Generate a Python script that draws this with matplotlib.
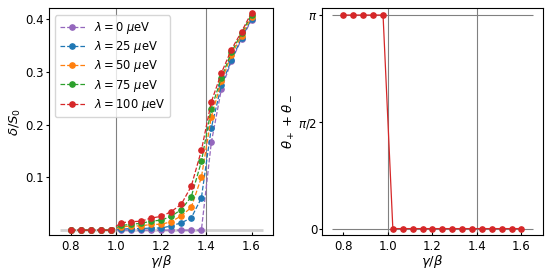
import numpy as np
import matplotlib
matplotlib.use("Agg")
import matplotlib.pyplot as plt

x = [0.8, 0.844, 0.889, 0.933, 0.978, 1.022, 1.067, 1.111, 1.156, 1.2,
     1.244, 1.289, 1.333, 1.378, 1.422, 1.467, 1.511, 1.556, 1.6]

labels = [r"$\lambda = 0\ \mu$eV", r"$\lambda = 25\ \mu$eV", r"$\lambda = 50\ \mu$eV",
          r"$\lambda = 75\ \mu$eV", r"$\lambda = 100\ \mu$eV"]
colors = ["C4", "C0", "C1", "C2", "C3"]

d0 = [0, 0, 0, 0, 0, 0, 0, 0, 0, 0, 0, 0, 0, 0,
      0.166, 0.268, 0.320, 0.362, 0.398]
d25 = [0, 0, 0, 0, 0, 0.002, 0.003, 0.003, 0.004, 0.004, 0.008, 0.014, 0.023, 0.061,
       0.194, 0.275, 0.322, 0.364, 0.400]
d50 = [0, 0, 0, 0, 0, 0.006, 0.008, 0.008, 0.011, 0.011, 0.016, 0.027, 0.043, 0.100,
       0.215, 0.282, 0.332, 0.368, 0.404]
d75 = [0, 0, 0, 0, 0, 0.009, 0.011, 0.013, 0.017, 0.019, 0.026, 0.039, 0.063, 0.130,
       0.230, 0.289, 0.337, 0.373, 0.408]
d100 = [0, 0, 0, 0, 0, 0.014, 0.016, 0.017, 0.023, 0.026, 0.035, 0.049, 0.083, 0.151,
        0.243, 0.298, 0.342, 0.376, 0.412]
deltas = [d0, d25, d50, d75, d100]

theta = [np.pi] * 5 + [0.0] * 14

plt.rcParams["font.size"] = 8.5
plt.rcParams["axes.labelsize"] = 9.5
fig = plt.figure(figsize=(5.55, 2.78), dpi=100)
ax1 = fig.add_axes([0.0889, 0.155, 0.403, 0.815])
ax2 = fig.add_axes([0.5807, 0.155, 0.397, 0.815])

# left panel
ax1.hlines(0, 0.75, 1.65, color="lightgray", lw=2, zorder=0)
ax1.axvline(1.0, color="gray", lw=0.8, zorder=0)
ax1.axvline(1.4, color="gray", lw=0.8, zorder=0)
for d, c, l in zip(deltas, colors, labels):
    ax1.plot(x, d, "o--", color=c, ms=3.8, lw=0.9, label=l)
ax1.set_xlim(0.705, 1.695)
ax1.set_ylim(-0.009, 0.420)
ax1.set_yticks([0.1, 0.2, 0.3, 0.4])
ax1.set_xticks([0.8, 1.0, 1.2, 1.4, 1.6])
ax1.set_xlabel(r"$\gamma/\beta$", labelpad=0)
ax1.set_ylabel(r"$\delta/S_0$", labelpad=2)
ax1.legend(loc="upper left", fontsize=8.3, handlelength=2.2, borderpad=0.4,
           labelspacing=0.28, bbox_to_anchor=(0.0, 0.995))

# right panel
ax2.hlines([0, np.pi], 0.75, 1.65, color="gray", lw=0.8, zorder=0)
ax2.axvline(1.0, color="gray", lw=0.8, zorder=0)
ax2.axvline(1.4, color="gray", lw=0.8, zorder=0)
ax2.plot(x, theta, "o-", color="C3", ms=3.8, lw=0.9)
ax2.set_xlim(0.705, 1.695)
ax2.set_ylim(-0.093, 3.24)
ax2.set_yticks([0, np.pi / 2, np.pi])
ax2.set_yticklabels(["0", r"$\pi/2$", r"$\pi$"])
ax2.set_xticks([0.8, 1.0, 1.2, 1.4, 1.6])
ax2.set_xlabel(r"$\gamma/\beta$", labelpad=0)
ax2.set_ylabel(r"$\theta_+ + \theta_-$", labelpad=1)

for ax in (ax1, ax2):
    ax.tick_params(axis="x", direction="in", length=2.5, pad=4)
    ax.tick_params(axis="y", direction="out", length=2.2, pad=1.5)

fig.savefig("out.png", dpi=100)
